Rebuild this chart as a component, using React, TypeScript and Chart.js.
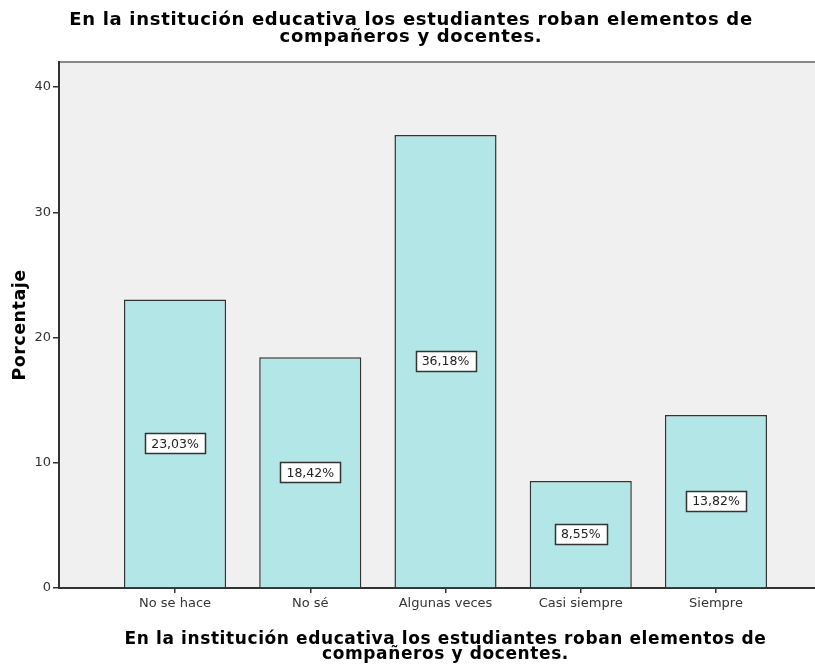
import React, { useEffect, useRef } from "react";
import { Chart, registerables } from "chart.js";

Chart.register(...registerables);

const categories = ["No se hace", "No sé", "Algunas veces", "Casi siempre", "Siempre"];
const percentages = [23.03, 18.42, 36.18, 8.55, 13.82];
const yTicks = [0, 10, 20, 30, 40];
const titleLines = ["En la institución educativa los estudiantes roban elementos de", "compañeros y docentes."];
const xTitleLines = ["En la institución educativa los estudiantes roban elementos de", "compañeros y docentes."];
const yTitle = "Porcentaje";

const plotBg = "#f0f0f0";
const barFill = "#b3e6e6";
const dark = "#333333";
const FONT = "'DejaVu Sans', sans-serif";

const bgPlugin = {
  id: "plotBg",
  beforeDraw(chart: any) {
    const { ctx, chartArea } = chart;
    ctx.save();
    ctx.fillStyle = plotBg;
    ctx.fillRect(chartArea.left, chartArea.top, chartArea.right - chartArea.left, chartArea.bottom - chartArea.top);
    ctx.strokeStyle = "#888888";
    ctx.lineWidth = 2;
    ctx.beginPath();
    ctx.moveTo(chartArea.left, chartArea.top);
    ctx.lineTo(chartArea.right, chartArea.top);
    ctx.stroke();
    ctx.restore();
  },
};

const titlesPlugin = {
  id: "titles",
  afterDraw(chart: any) {
    const { ctx, chartArea } = chart;
    ctx.save();
    ctx.fillStyle = "#000";
    ctx.textAlign = "center";
    ctx.textBaseline = "alphabetic";
    ctx.font = `bold 18px ${FONT}`;
    (ctx as any).letterSpacing = "0.7px";
    titleLines.forEach((t, i) => ctx.fillText(t, 411, 25 + i * 17));
    ctx.font = `bold 17px ${FONT}`;
    (ctx as any).letterSpacing = "0.6px";
    const xc = (chartArea.left + chartArea.right) / 2;
    xTitleLines.forEach((t, i) => ctx.fillText(t, xc, 644 + i * 15));
    ctx.font = `bold 17.5px ${FONT}`;
    (ctx as any).letterSpacing = "0.5px";
    ctx.translate(20, (chartArea.top + chartArea.bottom) / 2);
    ctx.rotate(-Math.PI / 2);
    ctx.textBaseline = "middle";
    ctx.fillText(yTitle, 0, 0);
    ctx.restore();
  },
};

const labelPlugin = {
  id: "barLabels",
  afterDatasetsDraw(chart: any) {
    const { ctx } = chart;
    const meta = chart.getDatasetMeta(0);
    ctx.save();
    (ctx as any).letterSpacing = "0px";
    ctx.font = `12.5px ${FONT}`;
    ctx.textAlign = "center";
    ctx.textBaseline = "middle";
    meta.data.forEach((el: any, i: number) => {
      const txt = percentages[i].toFixed(2).replace(".", ",") + "%";
      const cx = el.x;
      const cy = (el.y + el.base) / 2;
      const w = Math.round(ctx.measureText(txt).width + 12);
      const h = 20;
      const x0 = Math.round(cx - w / 2) + 0.5;
      const y0 = Math.round(cy - h / 2) + 0.5;
      ctx.fillStyle = "#ffffff";
      ctx.fillRect(x0, y0, w, h);
      ctx.strokeStyle = dark;
      ctx.lineWidth = 1.5;
      ctx.strokeRect(x0, y0, w, h);
      ctx.fillStyle = "#222";
      ctx.fillText(txt, cx, cy + 1);
    });
    ctx.restore();
  },
};

export default function App() {
  const ref = useRef<HTMLCanvasElement | null>(null);
  useEffect(() => {
    if (!ref.current) return;
    const chart = new Chart(ref.current, {
      type: "bar",
      data: {
        datasets: [
          {
            data: percentages.map((v, i) => ({ x: i, y: v })),
            backgroundColor: barFill,
            borderColor: dark,
            borderWidth: 1.5,
            categoryPercentage: 1,
            barPercentage: 0.755,
          },
        ],
      },
      options: {
        animation: false,
        responsive: false,
        maintainAspectRatio: false,
        devicePixelRatio: 1,
        layout: { padding: { top: 62, left: 0, right: 28, bottom: 0 } },
        plugins: { legend: { display: false }, tooltip: { enabled: false }, title: { display: false } },
        scales: {
          x: {
            type: "linear",
            offset: false,
            min: -0.858,
            max: 4.858,
            afterFit(scale: any) {
              scale.height = 83;
            },
            ticks: {
              stepSize: 1,
              includeBounds: false,
              autoSkip: false,
              maxRotation: 0,
              padding: 3,
              color: "#333",
              font: { family: FONT, size: 13 },
              callback: (v: any) => categories[v] ?? "",
            },
            grid: { offset: false, drawOnChartArea: false, drawTicks: true, tickLength: 5, color: dark, lineWidth: 1.5 },
            border: { display: true, color: dark, width: 2 },
            title: { display: false },
          },
          y: {
            min: 0,
            max: 42,
            afterFit(scale: any) {
              scale.width = 59;
            },
            afterBuildTicks(scale: any) {
              scale.ticks = yTicks.map((v) => ({ value: v }));
            },
            ticks: {
              stepSize: 10,
              padding: 2,
              color: "#333",
              font: { family: FONT, size: 13 },
            },
            grid: { drawOnChartArea: false, drawTicks: true, tickLength: 6, color: dark, lineWidth: 1.5 },
            border: { display: true, color: dark, width: 2 },
            title: { display: false },
          },
        },
      },
      plugins: [bgPlugin, labelPlugin, titlesPlugin],
    });
    return () => chart.destroy();
  }, []);
  return (
    <div style={{ position: "fixed", left: 0, top: 0, width: 815, height: 671, overflow: "hidden", background: "#fff" }}>
      <canvas ref={ref} width={860} height={671} style={{ display: "block", width: 860, height: 671 }} />
    </div>
  );
}
